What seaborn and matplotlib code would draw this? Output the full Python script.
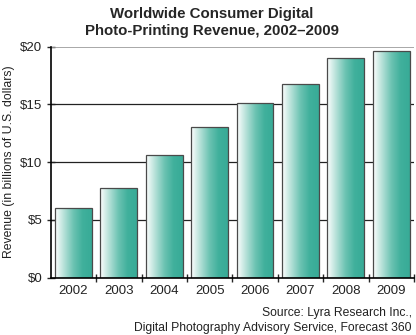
import numpy as np
import pandas as pd
import matplotlib
matplotlib.use("Agg")
import matplotlib.pyplot as plt
from matplotlib.colors import LinearSegmentedColormap
import seaborn as sns

years = ["2002", "2003", "2004", "2005", "2006", "2007", "2008", "2009"]
revenue = [6.0, 7.8, 10.6, 13.0, 15.1, 16.8, 19.0, 19.6]
ytick_values = [0, 5, 10, 15, 20]
ytick_labels = ["$0", "$5", "$10", "$15", "$20"]

df = pd.DataFrame({"year": years, "revenue": revenue})

sns.set_style("white")
plt.rcParams["font.family"] = ["Liberation Sans", "DejaVu Sans"]

fig = plt.figure(figsize=(4.16, 3.35), dpi=100)
ax = fig.add_axes([0.122, 0.171, 0.873, 0.690])

sns.barplot(data=df, x="year", y="revenue", ax=ax, width=0.81,
            color="#3aae9a", edgecolor="#4a4a4a", linewidth=0.9, zorder=3)

# horizontal gradient fill (white -> teal) clipped to each bar
cmap = LinearSegmentedColormap.from_list(
    "teal", ["#ffffff", "#b4e0d7", "#6cc3b2", "#40b09c", "#38ab97"])
grad = np.linspace(0, 1, 256).reshape(1, -1)
for p in ax.patches:
    x0, y0 = p.get_x(), p.get_y()
    w, h = p.get_width(), p.get_height()
    p.set_facecolor("none")
    im = ax.imshow(grad, cmap=cmap, aspect="auto",
                   extent=[x0, x0 + w, y0, y0 + h], zorder=2.5,
                   interpolation="bicubic")
    im.set_clip_path(p)

ax.set_xlim(-0.5, len(years) - 0.5)
ax.set_ylim(0, 20)

# gridlines
for v in ytick_values[1:-1]:
    ax.axhline(v, color="#222222", lw=0.9, zorder=1)
ax.axhline(20, color="#999999", lw=1.2, zorder=1)

for s in ["top", "right"]:
    ax.spines[s].set_visible(False)
for s in ["left", "bottom"]:
    ax.spines[s].set_color("#000000")
    ax.spines[s].set_linewidth(1.2)
    ax.spines[s].set_zorder(4)

ax.set_yticks(ytick_values)
ax.set_yticklabels(ytick_labels, fontsize=9.5, color="#222222")
ax.tick_params(axis="y", direction="inout", length=6, width=1, pad=3, left=True)

# x ticks sit between categories; labels at centres
ax.set_xticks(np.arange(len(years)))
ax.set_xticklabels(years, fontsize=9.5, color="#222222")
ax.tick_params(axis="x", length=0, pad=5)
ax.set_xticks(np.arange(len(years)) + 0.5, minor=True)
ax.tick_params(axis="x", which="minor", direction="inout", length=6, width=1,
               bottom=True)

ax.set_xlabel("")
ax.set_ylabel("Revenue (in billions of U.S. dollars)", fontsize=8.8,
              color="#222222", labelpad=4)

fig.text(0.51, 0.978, "Worldwide Consumer Digital\nPhoto-Printing Revenue, 2002\u20132009",
         ha="center", va="top", fontsize=10.8, fontweight="bold",
         linespacing=1.25)

fig.text(0.99, 0.083, "Source: Lyra Research Inc.,\nDigital Photography Advisory Service, Forecast 360",
         ha="right", va="top", fontsize=8.7, color="#222222", linespacing=1.3)

fig.savefig("out.png", dpi=100)
